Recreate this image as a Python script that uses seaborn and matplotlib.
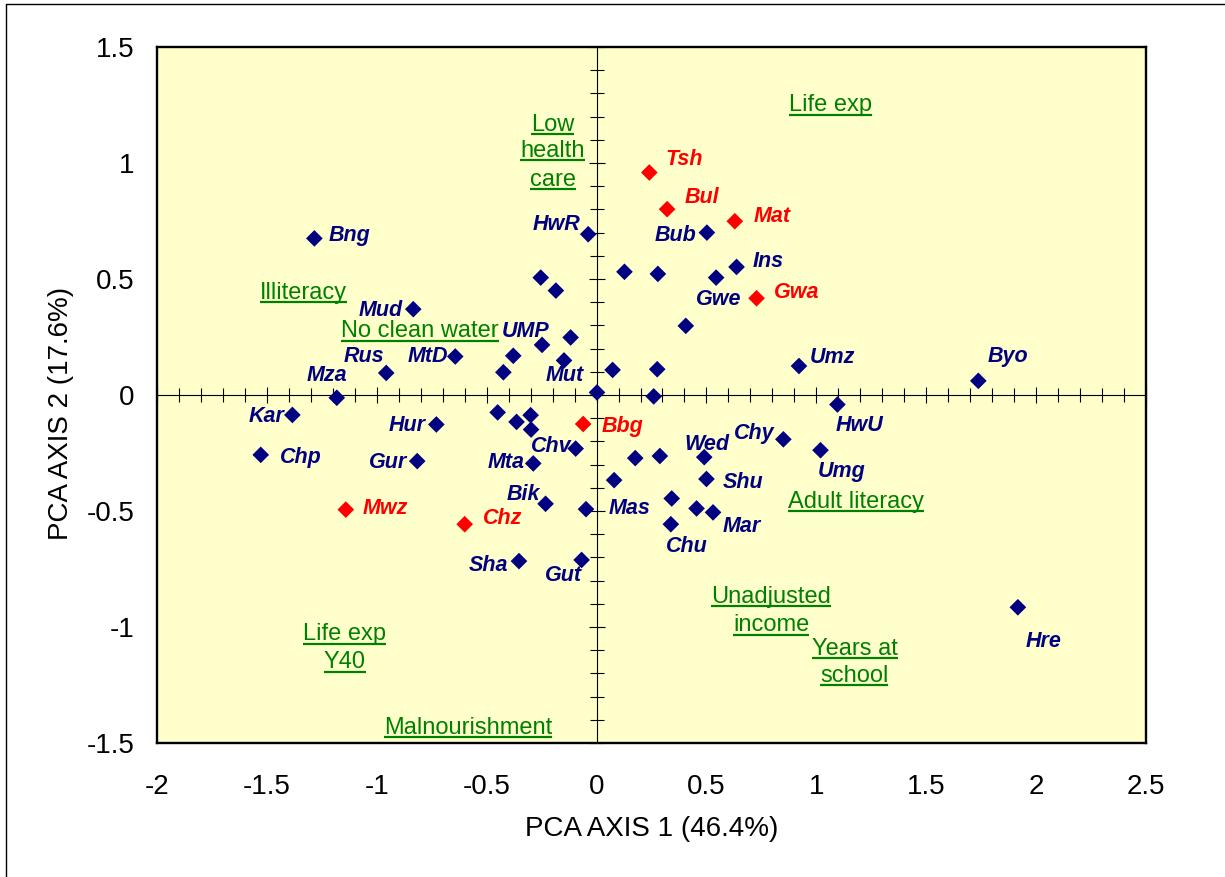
import matplotlib
matplotlib.use("Agg")
import matplotlib.pyplot as plt
import matplotlib.ticker as mticker
from matplotlib.lines import Line2D
import pandas as pd
import seaborn as sns

# ── Site scores on PCA axes 1 and 2 ───────────────────────────────────────────
# "" = point plotted without a name tag
BLUE_SITES = ["Bng", "HwR", "", "", "Mud", "", "UMP", "MtD", "", "Mut", "", "Rus",
              "Mza", "", "Kar", "Hur", "", "", "", "", "Chv", "Chp", "Gur", "Mta",
              "Bik", "Mas", "Sha", "Gut", "Bub", "", "", "Ins", "Gwe", "", "", "",
              "Umz", "Byo", "", "HwU", "Chy", "Umg", "", "", "Wed", "", "Shu", "",
              "", "Mar", "Chu", "Hre"]
BLUE_PC1 = [-1.284, -0.038, -0.254, -0.185, -0.834, -0.118, -0.248, -0.643, -0.379,
            -0.148, -0.424, -0.957, -1.182, 0.002, -1.384, -0.729, -0.450, -0.364,
            -0.300, -0.298, -0.095, -1.528, -0.816, -0.288, -0.232, -0.048, -0.353,
            -0.068, 0.502, 0.127, 0.279, 0.637, 0.544, 0.406, 0.073, 0.276, 0.921,
            1.737, 0.260, 1.096, 0.850, 1.019, 0.176, 0.288, 0.490, 0.080, 0.500,
            0.342, 0.455, 0.530, 0.338, 1.917]
BLUE_PC2 = [0.675, 0.693, 0.506, 0.450, 0.370, 0.248, 0.216, 0.166, 0.169, 0.149,
            0.098, 0.095, -0.012, 0.011, -0.086, -0.127, -0.075, -0.116, -0.087,
            -0.149, -0.231, -0.258, -0.285, -0.295, -0.469, -0.492, -0.716, -0.711,
            0.700, 0.531, 0.522, 0.552, 0.506, 0.298, 0.108, 0.111, 0.125, 0.061,
            -0.006, -0.041, -0.191, -0.238, -0.272, -0.263, -0.268, -0.367, -0.362,
            -0.446, -0.489, -0.506, -0.557, -0.915]

RED_SITES = ["Tsh", "Bul", "Mat", "Gwa", "Bbg", "Mwz", "Chz"]
RED_PC1 = [0.240, 0.321, 0.629, 0.728, -0.061, -1.141, -0.600]
RED_PC2 = [0.959, 0.801, 0.749, 0.417, -0.125, -0.494, -0.557]

# variable labels (text, x centre, baseline y)
VAR_LABELS = [
    ("Life exp", 1.064, 1.222),
    ("Low", -0.200, 1.140), ("health", -0.200, 1.026), ("care", -0.200, 0.903),
    ("Illiteracy", -1.334, 0.414),
    ("No clean water", -0.803, 0.249),
    ("Adult literacy", 1.182, -0.487),
    ("Unadjusted", 0.794, -0.896), ("income", 0.794, -1.018),
    ("Years at", 1.177, -1.120), ("school", 1.172, -1.237),
    ("Life exp", -1.145, -1.058), ("Y40", -1.145, -1.177),
    ("Malnourishment", -0.586, -1.460),
]

# name-tag offsets from the marker, in points
TAG_OFFSET = {
    "Bng": (25.0, 3.6), "HwR": (-22.8, 8.9), "Mud": (-23.5, 0.5), "UMP": (-11.5, 11.1),
    "Rus": (-16.1, 13.5), "MtD": (-19.9, 1.7), "Mza": (-7.2, 18.1), "Mut": (0.2, -8.9),
    "Kar": (-18.4, 0.5), "Hur": (-21.3, 0.7), "Chv": (-17.3, 3.6), "Chp": (28.8, -0.2),
    "Gur": (-20.9, 0.7), "Mta": (-19.7, 2.4), "Bik": (-16.1, 8.6), "Mas": (31.7, 2.4),
    "Sha": (-22.1, -1.2), "Gut": (-13.2, -9.4), "Bub": (-22.7, 0.0), "Ins": (22.8, 6.0),
    "Gwe": (2.2, -14.0), "Umz": (24.0, 8.2), "Byo": (21.6, 19.0), "HwU": (16.1, -13.2),
    "Chy": (-20.9, 6.0), "Umg": (15.0, -13.7), "Wed": (2.2, 10.6), "Shu": (26.1, -0.4),
    "Mar": (20.9, -8.6), "Chu": (11.2, -13.9), "Hre": (18.7, -22.5),
    "Tsh": (25.4, 11.2), "Bul": (25.1, 10.1), "Mat": (26.7, 5.0), "Gwa": (28.9, 6.3),
    "Bbg": (28.1, 0.3), "Mwz": (28.8, 2.4), "Chz": (27.1, 5.8),
}

NAVY, RED, GREEN, PANEL = "#000080", "#FF0000", "#008000", "#FFFFCC"

sns.set_theme(style="white")
plt.rcParams["font.family"] = ["Liberation Sans", "DejaVu Sans"]
plt.rcParams["axes.unicode_minus"] = False

df = pd.concat([
    pd.DataFrame({"site": BLUE_SITES, "pc1": BLUE_PC1, "pc2": BLUE_PC2, "group": "other"}),
    pd.DataFrame({"site": RED_SITES, "pc1": RED_PC1, "pc2": RED_PC2, "group": "highlight"}),
], ignore_index=True)

fig = plt.figure(figsize=(12.25, 8.77), dpi=100)
rect = [157 / 1225, 1 - 743 / 877, 989 / 1225, 696 / 877]
XLIM, YLIM = (-2, 2.5), (-1.5, 1.5)

# ── back axes: yellow panel, frame, tick labels, titles ──────────────────────
axf = fig.add_axes(rect, label="frame")
axf.set_facecolor(PANEL)
axf.set_xlim(XLIM); axf.set_ylim(YLIM)
axf.xaxis.set_major_locator(mticker.MultipleLocator(0.5))
axf.yaxis.set_major_locator(mticker.MultipleLocator(0.5))
axf.xaxis.set_major_formatter(mticker.FormatStrFormatter("%g"))
axf.yaxis.set_major_formatter(mticker.FormatStrFormatter("%g"))
axf.tick_params(axis="x", length=0, labelsize=20, pad=22, colors="black")
axf.tick_params(axis="y", length=0, labelsize=20, pad=16, colors="black")
for s in axf.spines.values():
    s.set_visible(True); s.set_color("black"); s.set_linewidth(1.7)
axf.set_xlabel("PCA AXIS 1 (46.4%)", fontsize=20, color="black")
axf.set_ylabel("PCA AXIS 2 (17.6%)", fontsize=20, color="black")
axf.xaxis.set_label_coords(0.5, -0.105)
axf.yaxis.set_label_coords(-0.084, 0.473)

# ── front axes: cross-hair axes through the origin + the sites ───────────────
ax = fig.add_axes(rect, label="points")
ax.patch.set_visible(False)
sns.scatterplot(data=df, x="pc1", y="pc2", hue="group",
                palette={"other": NAVY, "highlight": RED},
                marker="D", s=72, linewidth=0, legend=False, zorder=4, ax=ax)
ax.set(xlabel="", ylabel="")
ax.set_xlim(XLIM); ax.set_ylim(YLIM)
ax.set_autoscale_on(False)
for s in ("top", "right"):
    ax.spines[s].set_visible(False)
for s in ("left", "bottom"):
    ax.spines[s].set_position(("data", 0))
    ax.spines[s].set_color("black")
    ax.spines[s].set_linewidth(0.8)
for axis in (ax.xaxis, ax.yaxis):
    axis.set_major_locator(mticker.MultipleLocator(0.5))
    axis.set_minor_locator(mticker.MultipleLocator(0.1))
ax.tick_params(which="both", direction="inout", color="black", width=0.8,
               labelbottom=False, labelleft=False, bottom=True, left=True)
ax.tick_params(which="major", length=12)
ax.tick_params(which="minor", length=9.5)

# site name tags
for _, r in df.iterrows():
    if not r["site"]:
        continue
    dx, dy = TAG_OFFSET[r["site"]]
    ax.annotate(r["site"], (r["pc1"], r["pc2"]), xytext=(dx, dy),
                textcoords="offset points", ha="center", va="center_baseline",
                fontsize=15.5, fontweight="bold", fontstyle="italic",
                color=RED if r["group"] == "highlight" else NAVY, zorder=5)

# variable labels, underlined
var_texts = [ax.text(x, y, t, ha="center", va="baseline", fontsize=17, color=GREEN, zorder=5)
             for t, x, y in VAR_LABELS]
fig.canvas.draw()
renderer = fig.canvas.get_renderer()
inv = ax.transData.inverted()
for t in var_texts:
    bb = t.get_window_extent(renderer)
    _, base = ax.transData.transform(t.get_position())
    (x0, y0), (x1, y1) = inv.transform([(bb.x0, base - 3.5), (bb.x1, base - 3.5)])
    ax.plot([x0, x1], [y0, y1], color=GREEN, lw=1.6, solid_capstyle="butt",
            clip_on=False, zorder=5)

# outer chart border (left and top edges only are in view)
fig.add_artist(Line2D([6 / 1225, 6 / 1225], [0, 1 - 4 / 877], color="black", lw=1))
fig.add_artist(Line2D([6 / 1225, 1], [1 - 4 / 877, 1 - 4 / 877], color="black", lw=1))

fig.savefig("out.png", dpi=100, facecolor="white")
